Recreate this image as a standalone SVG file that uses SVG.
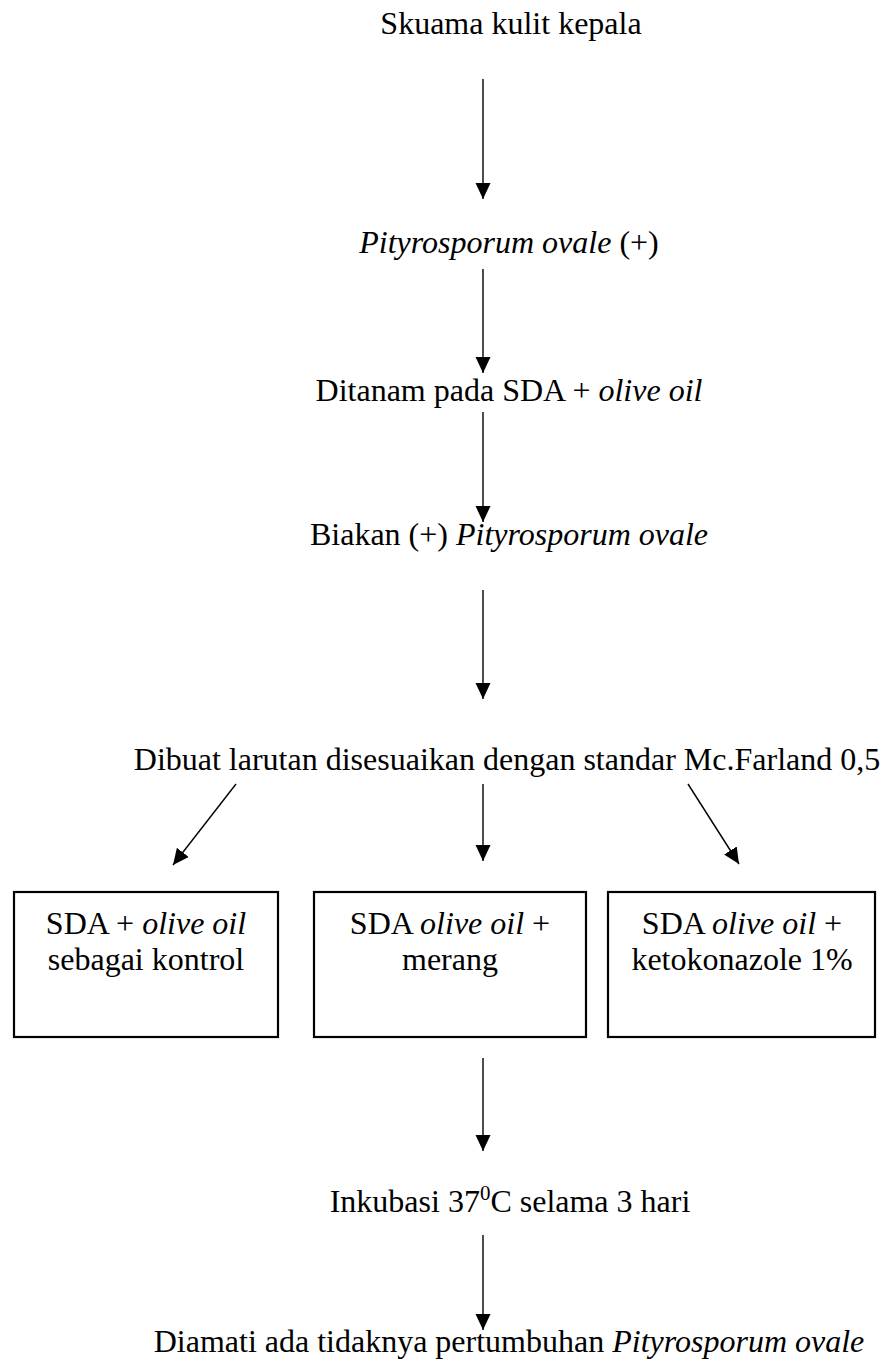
<svg xmlns="http://www.w3.org/2000/svg" width="887" height="1367" viewBox="0 0 887 1367">
<style>
text{font-family:"Liberation Serif","Times New Roman",serif;font-size:32px;fill:#000;text-anchor:middle}
.i{font-style:italic}
.box{fill:none;stroke:#000;stroke-width:2.2}
.c{stroke:#000;stroke-width:1.4;fill:none;marker-end:url(#ah)}
</style>
<defs>
<marker id="ah" markerUnits="userSpaceOnUse" markerWidth="16" markerHeight="17" refX="16" refY="7.5" orient="auto" viewBox="0 0 16 15">
<path d="M0,0 L16,7.5 L0,15 Z" fill="#000"/>
</marker>
</defs>
<rect width="887" height="1367" fill="#fff"/>
<g id="n1"><text x="511" y="34">Skuama kulit kepala</text></g>
<g id="n2"><text x="509" y="253"><tspan class="i">Pityrosporum ovale</tspan> (+)</text></g>
<g id="n3"><text x="509" y="401">Ditanam pada SDA + <tspan class="i">olive oil</tspan></text></g>
<g id="n4"><text x="509" y="545">Biakan (+) <tspan class="i">Pityrosporum ovale</tspan></text></g>
<g id="n5"><text x="507" y="770">Dibuat larutan disesuaikan dengan standar Mc.Farland 0,5</text></g>
<g id="b1"><rect class="box" x="14" y="892" width="264" height="145"/><text x="146" y="934">SDA + <tspan class="i">olive oil</tspan></text><text x="146" y="970">sebagai kontrol</text></g>
<g id="b2"><rect class="box" x="314" y="892" width="272" height="145"/><text x="450" y="934">SDA <tspan class="i">olive oil</tspan> +</text><text x="450" y="970">merang</text></g>
<g id="b3"><rect class="box" x="608" y="892" width="267" height="145"/><text x="742" y="934">SDA <tspan class="i">olive oil</tspan> +</text><text x="742" y="970">ketokonazole 1%</text></g>
<g id="n6"><text x="510" y="1212">Inkubasi 37<tspan font-size="21" dy="-12">0</tspan><tspan dy="12">C selama 3 hari</tspan></text></g>
<g id="n7"><text x="509" y="1352">Diamati ada tidaknya pertumbuhan <tspan class="i">Pityrosporum ovale</tspan></text></g>
<g id="connectors">
<path class="c" d="M483,79 L483,199"/>
<path class="c" d="M483,269 L483,373"/>
<path class="c" d="M483,412 L483,522"/>
<path class="c" d="M483,590 L483,699"/>
<path class="c" d="M236,784 L173,865"/>
<path class="c" d="M483,784 L483,861"/>
<path class="c" d="M688,784 L739,864"/>
<path class="c" d="M483,1058 L483,1151"/>
<path class="c" d="M483,1235 L483,1330"/>
</g>
</svg>
